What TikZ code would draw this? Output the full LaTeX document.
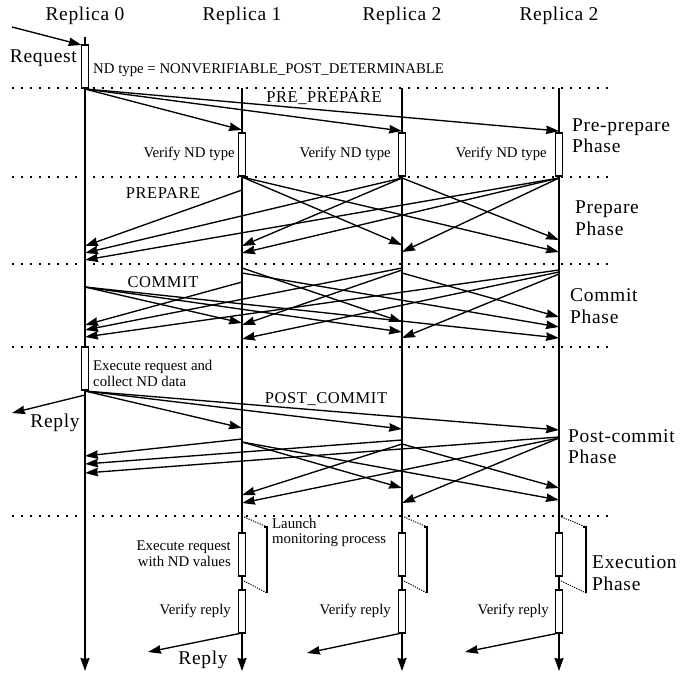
\documentclass[tikz,border=0pt]{standalone}
\usepackage{fontspec}
\setmainfont{Liberation Serif}
\newfontfamily\spacedserif[LetterSpace=3.5]{Liberation Serif}
\usetikzlibrary{arrows.meta}
\newcommand\msgline[4]{\draw[msg] (#1 |- 0,#2) -- (#3 |- 0,#4);}
\begin{document}
\begin{tikzpicture}[x=1pt,y=-1pt,
 life/.style={line width=1.5pt,-{Stealth[length=13pt,width=9pt,inset=1pt]}},
 msg/.style={line width=1.35pt,-{Stealth[length=13pt,width=8.5pt,inset=1pt]}},
 sep/.style={line width=1.6pt,dash pattern=on 1.6pt off 7.4pt},
 act/.style={draw,line width=1.3pt,fill=white,minimum width=7pt,minimum height=43pt,inner sep=0pt,outer sep=0pt,anchor=north},
 mon/.style={line width=1pt,dash pattern=on 1.2pt off 1.2pt},
 brk/.style={line width=1.2pt},
 big/.style={font=\spacedserif\fontsize{19.5}{22}\selectfont,inner sep=0pt},
 mid/.style={font=\spacedserif\fontsize{16.5}{19}\selectfont,inner sep=0pt},
 sml/.style={font=\fontsize{14.8}{16}\selectfont,inner sep=0pt},
]
\useasboundingbox (0,0) rectangle (692,676);
% lifeline positions
\coordinate (L0) at (85,0);
\coordinate (L1) at (242,0);
\coordinate (L2) at (402,0);
\coordinate (L3) at (559,0);
% headers
\node[big,anchor=base] (h0) at (85,21) {Replica 0};
\node[big,anchor=base] (h1) at (242,21) {Replica 1};
\node[big,anchor=base] (h2) at (402,21) {Replica 2};
\node[big,anchor=base] (h3) at (559,21) {Replica 2};
% lifelines
\coordinate (s0) at (85,37);  \coordinate (e0) at (85,671);
\coordinate (s1) at (242,88); \coordinate (e1) at (242,671);
\coordinate (s2) at (402,88); \coordinate (e2) at (402,671);
\coordinate (s3) at (559,88); \coordinate (e3) at (559,671);
\draw[life] (s0) -- (e0);
\draw[life] (s1) -- (e1);
\draw[life] (s2) -- (e2);
\draw[life] (s3) -- (e3);
% phase separators
\foreach \yy in {88,177,264,347,516} {\draw[sep] (12,\yy) -- (610,\yy);}
% activation boxes
\node[act] (req) at (85,45) {};
\node[act] (vnd1) at (242,133) {};
\node[act] (vnd2) at (402,133) {};
\node[act] (vnd3) at (559,133) {};
\node[act] (exe0) at (85,347) {};
\node[act] (ex1) at (242,533) {};
\node[act] (ex2) at (402,533) {};
\node[act] (ex3) at (559,533) {};
\node[act] (vr1) at (242,590) {};
\node[act] (vr2) at (402,590) {};
\node[act] (vr3) at (559,590) {};
% request
\coordinate (rq) at (12,27);
\draw[msg] (rq) -- (req.north west);
\node[big,anchor=base east] (reqt) at (77,63) {Request};
\node[sml,anchor=base west] (ndt) at (93,74) {ND type = NONVERIFIABLE\_POST\_DETERMINABLE};
% pre-prepare
\msgline{L0}{89}{L1}{130}
\msgline{L0}{89}{L2}{131}
\msgline{L0}{89}{L3}{131}
\node[mid,anchor=base] (pp) at (324,103) {PRE\_PREPARE};
\node[sml,anchor=base east] (v1t) at (235,158) {Verify ND type};
\node[sml,anchor=base east] (v2t) at (391,158) {Verify ND type};
\node[sml,anchor=base east] (v3t) at (547,158) {Verify ND type};
\node[big,anchor=base west] (ph1a) at (572,132) {Pre-prepare};
\node[big,anchor=base west] (ph1b) at (572,153) {Phase};
% prepare
\msgline{L1}{190}{L0}{246}
\msgline{L1}{177}{L2}{245}
\msgline{L1}{177}{L3}{252}
\msgline{L2}{178}{L0}{253}
\msgline{L2}{178}{L1}{246}
\msgline{L2}{178}{L3}{240}
\msgline{L3}{178}{L0}{260}
\msgline{L3}{178}{L1}{253}
\msgline{L3}{178}{L2}{252}
\node[mid,anchor=base] (prp) at (163,199) {PREPARE};
\node[big,anchor=base west] (ph2a) at (575,213) {Prepare};
\node[big,anchor=base west] (ph2b) at (575,235) {Phase};
% commit
\msgline{L0}{287}{L1}{323}
\msgline{L0}{287}{L2}{332}
\msgline{L0}{287}{L3}{338}
\msgline{L1}{282}{L0}{325}
\msgline{L1}{268}{L2}{322}
\msgline{L1}{273}{L3}{327}
\msgline{L2}{268}{L0}{330}
\msgline{L2}{270}{L1}{325}
\msgline{L2}{273}{L3}{317}
\msgline{L3}{270}{L0}{337}
\msgline{L3}{272}{L1}{339}
\msgline{L3}{274}{L2}{338}
\node[mid,anchor=base] (cmt) at (163,287) {COMMIT};
\node[big,anchor=base west] (ph3a) at (570,301) {Commit};
\node[big,anchor=base west] (ph3b) at (570,323) {Phase};
% execute at replica 0
\node[sml,anchor=base west] (exa) at (93,370) {Execute request and};
\node[sml,anchor=base west] (exb) at (93,386) {collect ND data};
\coordinate (rp0) at (12,413);
\draw[msg] (L0 |- 0,395) -- (rp0);
\node[big,anchor=base] (rpt0) at (55,427) {Reply};
% post-commit
\msgline{L0}{391}{L1}{428}
\msgline{L0}{391}{L2}{429}
\msgline{L0}{391}{L3}{430}
\node[mid,anchor=base] (pc) at (326,403) {POST\_COMMIT};
\msgline{L1}{439}{L0}{456}
\msgline{L1}{442}{L2}{488}
\msgline{L1}{442}{L3}{500}
\msgline{L2}{440}{L0}{464}
\msgline{L2}{444}{L1}{495}
\msgline{L2}{444}{L3}{488}
\msgline{L3}{437}{L0}{473}
\msgline{L3}{438}{L1}{503}
\msgline{L3}{438}{L2}{503}
\node[big,anchor=base west] (ph4a) at (568,442) {Post-commit};
\node[big,anchor=base west] (ph4b) at (568,463) {Phase};
% execution phase brackets
\draw[mon] (242,516) -- (267,527);
\draw[brk] (264,527) -- (267,527) -- (267,593);
\draw[mon] (242,580) -- (267,593);
\draw[mon] (402,516) -- (427,527);
\draw[brk] (424,527) -- (427,527) -- (427,593);
\draw[mon] (402,580) -- (427,593);
\draw[mon] (559,516) -- (586,527);
\draw[brk] (583,527) -- (586,527) -- (586,593);
\draw[mon] (559,580) -- (586,593);
\node[sml,anchor=base west] (lma) at (272,528) {Launch};
\node[sml,anchor=base west] (lmb) at (272,543) {monitoring process};
\node[sml,anchor=base east] (xwa) at (231,550) {Execute request};
\node[sml,anchor=base east] (xwb) at (231,566) {with ND values};
\node[big,anchor=base west] (ph5a) at (592,568) {Execution};
\node[big,anchor=base west] (ph5b) at (592,590) {Phase};
\node[sml,anchor=base east] (vrt1) at (231,614) {Verify reply};
\node[sml,anchor=base east] (vrt2) at (391,614) {Verify reply};
\node[sml,anchor=base east] (vrt3) at (549,614) {Verify reply};
% replies to client
\coordinate (rp1) at (148,652);
\coordinate (rp2) at (307,653);
\coordinate (rp3) at (465,652);
\draw[msg] (vr1.south) -- (rp1);
\draw[msg] (vr2.south) -- (rp2);
\draw[msg] (vr3.south) -- (rp3);
\node[big,anchor=base] (rpt1) at (203,664) {Reply};
\end{tikzpicture}
\end{document}
